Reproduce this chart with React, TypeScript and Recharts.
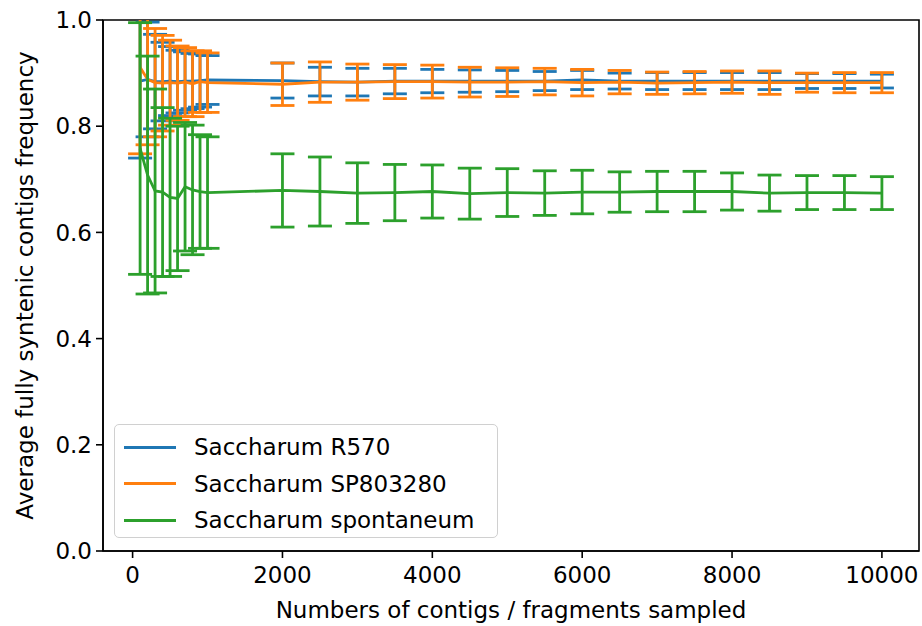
import React from 'react';
import { LineChart, Line, XAxis, YAxis, ErrorBar, Legend, ReferenceArea } from 'recharts';

// x values: number of contigs / fragments sampled
const sampleSizes = [
  100, 200, 300, 400, 500, 600, 700, 800, 900, 1000,
  2000, 2500, 3000, 3500, 4000, 4500, 5000, 5500, 6000,
  6500, 7000, 7500, 8000, 8500, 9000, 9500, 10000,
];

// Saccharum R570
const r570Mean = [
  0.885, 0.888, 0.884, 0.884, 0.885, 0.884, 0.885, 0.885, 0.886, 0.887,
  0.886, 0.884, 0.883, 0.885, 0.885, 0.885, 0.885, 0.885, 0.887,
  0.885, 0.885, 0.885, 0.885, 0.885, 0.885, 0.885, 0.885,
];
const r570Err = [
  0.145, 0.108, 0.089, 0.074, 0.065, 0.059, 0.055, 0.052, 0.050, 0.046,
  0.033, 0.027, 0.026, 0.024, 0.022, 0.021, 0.020, 0.018, 0.018,
  0.015, 0.016, 0.016, 0.016, 0.016, 0.014, 0.014, 0.013,
];

// Saccharum SP803280
const sp803280Mean = [
  0.911, 0.888, 0.882, 0.881, 0.882, 0.881, 0.883, 0.880, 0.884, 0.882,
  0.879, 0.883, 0.883, 0.884, 0.884, 0.883, 0.883, 0.884, 0.882,
  0.883, 0.881, 0.882, 0.883, 0.882, 0.882, 0.882, 0.882,
];
const sp803280Err = [
  0.163, 0.123, 0.102, 0.090, 0.080, 0.070, 0.065, 0.062, 0.058, 0.056,
  0.040, 0.038, 0.034, 0.032, 0.031, 0.028, 0.027, 0.025, 0.025,
  0.022, 0.021, 0.021, 0.021, 0.022, 0.018, 0.019, 0.019,
];

// Saccharum spontaneum
const spontMean = [
  0.758, 0.708, 0.678, 0.676, 0.666, 0.664, 0.686, 0.680, 0.677, 0.675,
  0.679, 0.677, 0.674, 0.675, 0.677, 0.673, 0.675, 0.674, 0.676,
  0.676, 0.677, 0.677, 0.677, 0.674, 0.675, 0.675, 0.674,
];
const spontErr = [
  0.237, 0.224, 0.192, 0.159, 0.149, 0.136, 0.121, 0.122, 0.107, 0.105,
  0.069, 0.065, 0.057, 0.053, 0.050, 0.048, 0.045, 0.042, 0.041,
  0.038, 0.038, 0.038, 0.035, 0.034, 0.032, 0.032, 0.031,
];

const xTicks = [0, 2000, 4000, 6000, 8000, 10000];
const yTicks = [0, 0.2, 0.4, 0.6, 0.8, 1.0];
const xDomain = [-395, 10495];
const yDomain = [0, 1];

const series = [
  { key: 'r570', name: 'Saccharum R570', color: '#1f77b4' },
  { key: 'sp803280', name: 'Saccharum SP803280', color: '#ff7f0e' },
  { key: 'spont', name: 'Saccharum spontaneum', color: '#2ca02c' },
];

const data = sampleSizes.map((n, i) => ({
  n,
  r570: r570Mean[i],
  r570Err: r570Err[i],
  sp803280: sp803280Mean[i],
  sp803280Err: sp803280Err[i],
  spont: spontMean[i],
  spontErr: spontErr[i],
}));

const FONT = 'DejaVu Sans, sans-serif';
const tickStyle = { fill: '#000', fontSize: 23, fontFamily: FONT };

// plot area, same as the chart margins + axis sizes below
const PLOT = { x: 103, y: 20, w: 816, h: 531 };

const LegendBox = () => (
  <div
    style={{
      border: '1.5px solid #d0d0d0',
      borderRadius: 5,
      background: 'rgba(255,255,255,0.8)',
      padding: '4px 10px 4px 9px',
      fontFamily: FONT,
      fontSize: 23,
      color: '#000',
      boxSizing: 'border-box',
      width: 384,
      height: 114,
    }}
  >
    {series.map((s) => (
      <div key={s.key} style={{ display: 'flex', alignItems: 'center', height: 36.5 }}>
        <div style={{ width: 52, height: 3, background: s.color, marginRight: 18 }} />
        <span>{s.name}</span>
      </div>
    ))}
  </div>
);

export default function App() {
  return (
    <div style={{ position: 'absolute', left: 0, top: 0, width: 922, height: 626, background: '#fff' }}>
      {/* error bars going past 1.0 get cut at the frame, like matplotlib */}
      <svg width={0} height={0} style={{ position: 'absolute' }}>
        <defs>
          <clipPath id="plotClip">
            <rect x={PLOT.x} y={PLOT.y} width={PLOT.w} height={PLOT.h} />
          </clipPath>
        </defs>
      </svg>
      <style>{'.recharts-errorBars, .recharts-errorBar { clip-path: url(#plotClip); }'}</style>
      <LineChart width={922} height={626} data={data} margin={{ top: 20, right: 3, left: 0, bottom: 0 }}>
        <XAxis
          dataKey="n"
          type="number"
          domain={xDomain}
          ticks={xTicks}
          allowDataOverflow
          height={75}
          tick={tickStyle}
          tickSize={7}
          tickMargin={9}
          axisLine={{ stroke: '#000', strokeWidth: 1.6 }}
          tickLine={{ stroke: '#000', strokeWidth: 1.6 }}
          label={{
            value: 'Numbers of contigs / fragments sampled',
            position: 'insideBottom',
            offset: 8,
            fill: '#000',
            fontSize: 23,
            fontFamily: FONT,
          }}
        />
        <YAxis
          type="number"
          domain={yDomain}
          ticks={yTicks}
          allowDataOverflow
          width={103}
          tick={tickStyle}
          tickSize={7}
          tickMargin={4}
          tickFormatter={(v: number) => v.toFixed(1)}
          axisLine={{ stroke: '#000', strokeWidth: 1.6 }}
          tickLine={{ stroke: '#000', strokeWidth: 1.6 }}
          label={{
            value: 'Average fully syntenic contigs frequency',
            angle: -90,
            position: 'center',
            dx: -27,
            fill: '#000',
            fontSize: 23,
            fontFamily: FONT,
          }}
        />
        <ReferenceArea
          x1={xDomain[0]}
          x2={xDomain[1]}
          y1={yDomain[0]}
          y2={yDomain[1]}
          fill="none"
          fillOpacity={0}
          stroke="#000"
          strokeWidth={1.6}
          ifOverflow="visible"
        />
        {series.map((s) => (
          <Line
            key={s.key}
            dataKey={s.key}
            name={s.name}
            stroke={s.color}
            strokeWidth={2.8}
            dot={false}
            activeDot={false}
            isAnimationActive={false}
            type="linear"
          >
            <ErrorBar
              dataKey={`${s.key}Err`}
              direction="y"
              width={12}
              stroke={s.color}
              strokeWidth={2.8}
              isAnimationActive={false}
            />
          </Line>
        ))}
        <Legend
          layout="vertical"
          align="center"
          verticalAlign="middle"
          content={() => <LegendBox />}
          wrapperStyle={{ left: 114, top: 424, width: 384, height: 114 }}
        />
      </LineChart>
    </div>
  );
}
